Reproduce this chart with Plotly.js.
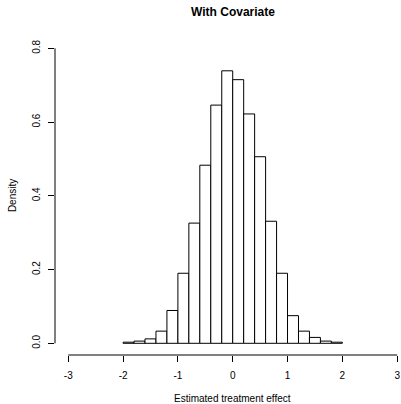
<!DOCTYPE html>
<html>
<head>
<meta charset="utf-8">
<script src="https://cdn.plot.ly/plotly-3.0.1.min.js"></script>
<style>html,body{margin:0;padding:0;background:#fff;}#chart{width:401px;height:404px;}</style>
</head>
<body>
<div id="chart"></div>
<script>
// Bin edges (width 0.2) and density per bin
const binStarts = [-2.0, -1.8, -1.6, -1.4, -1.2, -1.0, -0.8, -0.6, -0.4, -0.2, 0.0, 0.2, 0.4, 0.6, 0.8, 1.0, 1.2, 1.4, 1.6, 1.8];
const binWidth = 0.2;
const density = [0.003, 0.006, 0.012, 0.033, 0.089, 0.190, 0.326, 0.483, 0.646, 0.739, 0.715, 0.622, 0.506, 0.331, 0.190, 0.075, 0.033, 0.016, 0.006, 0.003];
const xTicks = [-3, -2, -1, 0, 1, 2, 3];
const yTicks = [0.0, 0.2, 0.4, 0.6, 0.8];
const yTickText = ["0.0", "0.2", "0.4", "0.6", "0.8"];

const centers = binStarts.map(s => s + binWidth / 2);
const FONT = "Liberation Sans, Arial, Helvetica, sans-serif";

const trace = {
  type: "bar",
  x: centers,
  y: density,
  width: binStarts.map(() => binWidth),
  marker: {color: "#ffffff", line: {color: "#000000", width: 1}},
  hoverinfo: "skip"
};

const layout = {
  width: 401, height: 404,
  margin: {l: 55, r: 0, t: 36, b: 49, pad: 0},
  paper_bgcolor: "#ffffff", plot_bgcolor: "#ffffff",
  showlegend: false,
  font: {family: FONT, size: 10, color: "#000"},
  title: {text: "<b>With Covariate</b>", font: {family: FONT, size: 12, color: "#000"},
          xref: "container", x: 233/401, xanchor: "center",
          yref: "container", y: 1 - 12/404, yanchor: "middle"},
  xaxis: {range: [-3.242, 3.07], showgrid: false, zeroline: false, showline: false,
          tickmode: "array", tickvals: xTicks, ticktext: xTicks.map(String),
          ticks: "outside", ticklen: 6, tickwidth: 1, tickcolor: "#000",
          ticklabelstandoff: 5, ticklabeloverflow: "allow",
          tickfont: {family: FONT, size: 10, color: "#000"}, fixedrange: true},
  yaxis: {range: [-0.0317, 0.8334], showgrid: false, zeroline: false, showline: false,
          tickmode: "array", tickvals: yTicks, ticktext: yTickText, tickangle: -90,
          ticks: "outside", ticklen: 6, tickwidth: 1, tickcolor: "#000",
          ticklabelstandoff: 4, ticklabeloverflow: "allow",
          tickfont: {family: FONT, size: 10, color: "#000"}, fixedrange: true},
  shapes: [
    {type: "line", xref: "x", yref: "paper", x0: -3, x1: 3, y0: 0, y1: 0, line: {color: "#000", width: 1}},
    {type: "line", xref: "paper", yref: "y", x0: 0, x1: 0, y0: 0, y1: 0.8, line: {color: "#000", width: 1}}
  ],
  annotations: [
    {text: "Estimated treatment effect", xref: "x", x: 0, yref: "paper", y: (355 - 398)/319,
     xanchor: "center", yanchor: "middle", showarrow: false, font: {family: FONT, size: 10, color: "#000"}},
    {text: "Density", xref: "paper", x: (13.3 - 55)/346, yref: "y", y: 0.4, textangle: -90,
     xanchor: "center", yanchor: "middle", showarrow: false, font: {family: FONT, size: 10, color: "#000"}}
  ],
  bargap: 0
};

Plotly.newPlot("chart", [trace], layout, {displayModeBar: false, staticPlot: true});
</script>
</body>
</html>
